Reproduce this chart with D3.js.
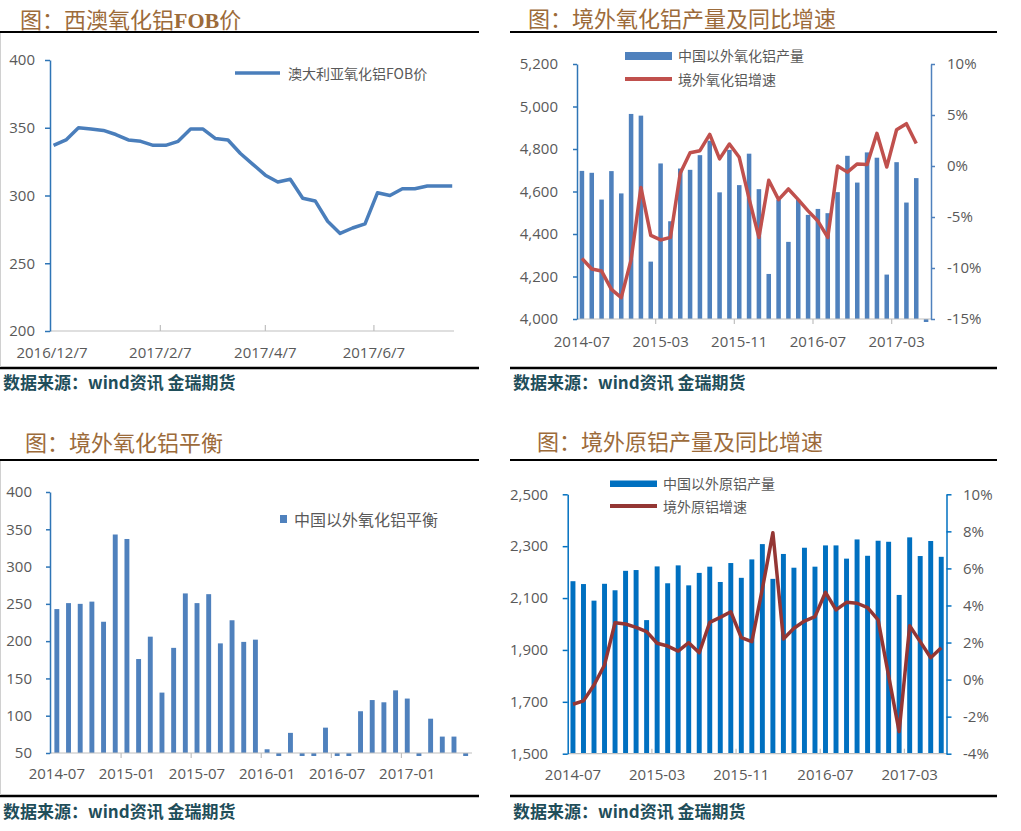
<!DOCTYPE html>
<html><head><meta charset="utf-8">
<script src="https://cdn.jsdelivr.net/npm/d3@7"></script>
<style>body{margin:0;background:#fff}svg{display:block;background:#fff}</style>
</head><body><svg id="c" width="1021" height="831"></svg>
<script>
// ---------- DATA ----------
const months = ["2014-07","2014-08","2014-09","2014-10","2014-11","2014-12",
  "2015-01","2015-02","2015-03","2015-04","2015-05","2015-06","2015-07","2015-08","2015-09","2015-10","2015-11","2015-12",
  "2016-01","2016-02","2016-03","2016-04","2016-05","2016-06","2016-07","2016-08","2016-09","2016-10","2016-11","2016-12",
  "2017-01","2017-02","2017-03","2017-04","2017-05","2017-06"];

const fobDates = ["2016-12-09","2016-12-16","2016-12-23","2016-12-30","2017-01-06","2017-01-13","2017-01-20","2017-01-27",
  "2017-02-03","2017-02-10","2017-02-17","2017-02-24","2017-03-03","2017-03-10","2017-03-17","2017-03-24","2017-03-31",
  "2017-04-07","2017-04-14","2017-04-21","2017-04-28","2017-05-05","2017-05-12","2017-05-19","2017-05-26",
  "2017-06-02","2017-06-09","2017-06-16","2017-06-23","2017-06-30","2017-07-07","2017-07-14","2017-07-21"];
const fobValues = [337,341,350,349,348,345,341,340,337,337,340,349,349,342,341,331,323,315,310,312,298,296,281,272,276,279,302,300,305,305,307,307,307];
const fobTickDates = ["2016-12-07","2017-02-07","2017-04-07","2017-06-07"];
const fobTickLabels = ["2016/12/7","2017/2/7","2017/4/7","2017/6/7"];

const aluminaOutput = [4697,4688,4562,4696,4591,4965,4957,4270,4732,4460,4708,4702,4771,4839,4596,4796,4630,4778,
  4611,4212,4561,4363,4561,4490,4518,4498,4597,4768,4642,4784,4759,4209,4738,4548,4663,0];
const aluminaGrowth = [-9.05,-10.1,-10.3,-12.1,-12.9,-9.2,-2.1,-6.8,-7.25,-7.0,-0.7,1.3,1.5,3.1,0.7,2.15,0.85,-3.2,
  -7.0,-1.4,-3.3,-2.25,-3.3,-4.4,-5.4,-7.0,0.0,-0.6,0.2,0.15,3.2,-0.1,3.55,4.15,2.2,null];

const aluminaBalance = [243,251,250,253,226,343,337,176,206,131,191,264,251,263,197,228,199,202,
  55,30,77,30,30,84,30,30,106,121,118,134,123,30,96,72,72,30];

const aluminumOutput = [2165,2154,2090,2155,2130,2205,2208,2015,2222,2157,2226,2149,2197,2221,2162,2235,2178,2249,
  2308,2174,2270,2217,2294,2221,2303,2303,2252,2326,2263,2321,2317,2112,2334,2262,2320,2259];
const aluminumGrowth = [-1.33,-1.15,-0.29,0.79,3.07,3.0,2.82,2.59,1.96,1.81,1.54,1.99,1.45,3.09,3.36,3.66,2.26,2.05,
  4.9,7.93,2.19,2.77,3.16,3.4,4.71,3.76,4.17,4.12,3.88,3.22,0.2,-2.81,2.91,2.05,1.18,1.72];

const sourceText = "数据来源：wind资讯 金瑞期货";

// ---------- STYLE ----------
const svg = d3.select("#c");
const CJK = "'Noto Sans CJK SC','Noto Sans',sans-serif";
const NUM = "'Open Sans','Noto Sans',sans-serif";
const labelColor = "#595959";
const axisBlue = "#2E75B6";
const gridGrey = "#BFBFBF";
const parse = d3.timeParse("%Y-%m-%d");

function frame(x0, x1, titleX, titleY, titleParts, topLineY, botLineY, srcY, leftBorder) {
  const g = svg.append("g");
  const t = g.append("text").attr("x", titleX).attr("y", titleY)
    .attr("fill", "#9C6B3A").attr("font-size", 22).attr("font-family", CJK);
  titleParts.forEach(p => {
    const s = t.append("tspan").text(p.t);
    if (p.serif) s.attr("font-family", "'Liberation Serif',serif").attr("font-weight", "bold");
  });
  g.append("line").attr("x1", x0).attr("x2", x1).attr("y1", topLineY).attr("y2", topLineY)
    .attr("stroke", "#000").attr("stroke-width", 2);
  g.append("line").attr("x1", x0).attr("x2", x1).attr("y1", botLineY).attr("y2", botLineY)
    .attr("stroke", "#000").attr("stroke-width", 2.5);
  if (leftBorder) {
    g.append("line").attr("x1", 0.5).attr("x2", 0.5).attr("y1", topLineY + 1).attr("y2", botLineY - 1)
      .attr("stroke", "#D0D0D0").attr("stroke-width", 1);
  }
  g.append("text").attr("x", x0 + 3).attr("y", srcY).text(sourceText)
    .attr("fill", "#1F4E5A").attr("font-size", 17).attr("font-weight", "bold").attr("font-family", CJK);
}

function styleAxis(sel, color) {
  sel.selectAll("path.domain").attr("stroke", color).attr("stroke-width", 1.5);
  sel.selectAll(".tick line").attr("stroke", color).attr("stroke-width", 1.5);
  sel.selectAll(".tick text").attr("fill", labelColor).attr("font-size", 15).attr("font-family", NUM);
}

function xCatAxis(g, x, n, every, yAxis, x0, x1, tickDir, labelY) {
  g.append("line").attr("x1", x0).attr("x2", x1).attr("y1", yAxis).attr("y2", yAxis)
    .attr("stroke", gridGrey).attr("stroke-width", 1.2);
  for (let i = every; i < n; i += every) {
    const xx = x(months[i]);
    g.append("line").attr("x1", xx).attr("x2", xx).attr("y1", yAxis).attr("y2", yAxis + tickDir * 5)
      .attr("stroke", gridGrey).attr("stroke-width", 1.2);
  }
  for (let i = 0; i < n; i += every) {
    g.append("text").attr("x", x(months[i]) + x.bandwidth() / 2).attr("y", labelY)
      .attr("text-anchor", "middle").text(months[i])
      .attr("fill", labelColor).attr("font-size", 15).attr("font-family", NUM);
  }
}

// ---------- PANEL 1 ----------
frame(0, 479, 20, 28, [{t:"图：西澳氧化铝"},{t:"FOB", serif:true},{t:"价"}], 32, 368, 389, true);
{
  const g = svg.append("g");
  const x = d3.scaleTime([parse("2016-12-07"), parse("2017-07-22")], [50, 454]);
  const y = d3.scaleLinear([200, 400], [331, 60]);
  g.append("line").attr("x1", 50).attr("x2", 454).attr("y1", 331).attr("y2", 331)
    .attr("stroke", gridGrey).attr("stroke-width", 1.2);
  fobTickDates.forEach((d, i) => {
    const xx = x(parse(d));
    if (i > 0) g.append("line").attr("x1", xx).attr("x2", xx).attr("y1", 331).attr("y2", 325)
      .attr("stroke", gridGrey).attr("stroke-width", 1.2);
    g.append("text").attr("x", i === 0 ? xx + 2 : xx).attr("y", 358).attr("text-anchor", "middle")
      .text(fobTickLabels[i]).attr("fill", labelColor).attr("font-size", 15).attr("font-family", NUM);
  });
  const ax = g.append("g").attr("transform", "translate(50,0)")
    .call(d3.axisLeft(y).tickValues([200,250,300,350,400]).tickSize(5).tickSizeOuter(0).tickPadding(10));
  styleAxis(ax, axisBlue);
  g.append("path").datum(fobValues)
    .attr("d", d3.line().x((d, i) => x(parse(fobDates[i]))).y(d => y(d)))
    .attr("fill", "none").attr("stroke", "#4A7EBB").attr("stroke-width", 3.5)
    .attr("stroke-linejoin", "round");
  g.append("line").attr("x1", 235).attr("x2", 280).attr("y1", 73).attr("y2", 73)
    .attr("stroke", "#4A7EBB").attr("stroke-width", 3.5);
  g.append("text").attr("x", 288).attr("y", 73).attr("dominant-baseline", "central")
    .text("澳大利亚氧化铝FOB价").attr("fill", labelColor).attr("font-size", 14).attr("font-family", CJK);
}

// ---------- PANEL 2 ----------
frame(510, 997, 528, 26.5, [{t:"图：境外氧化铝产量及同比增速"}], 32, 368, 389, false);
{
  const g = svg.append("g");
  const x = d3.scaleBand(months, [577, 931]);
  const yL = d3.scaleLinear([4000, 5200], [319, 64]);
  const yR = d3.scaleLinear([-15, 10], [319, 64]);
  g.append("clipPath").attr("id", "clip2").append("rect").attr("x", 570).attr("y", 60).attr("width", 365).attr("height", 262);
  const bw = x.bandwidth() * 0.46;
  g.append("g").attr("clip-path", "url(#clip2)").selectAll("rect").data(aluminaOutput).join("rect")
    .attr("x", (d, i) => x(months[i]) + (x.bandwidth() - bw) / 2)
    .attr("y", d => Math.min(yL(d), yL(4000)))
    .attr("width", bw)
    .attr("height", d => Math.abs(yL(4000) - yL(d)))
    .attr("fill", "#4F81BD");
  xCatAxis(g, x, 36, 8, 319, 577, 931, 1, 347);
  const axL = g.append("g").attr("transform", "translate(577,0)")
    .call(d3.axisLeft(yL).tickValues(d3.range(4000, 5201, 200)).tickFormat(d3.format(",")).tickSize(4).tickSizeOuter(0).tickPadding(15));
  styleAxis(axL, axisBlue);
  const axR = g.append("g").attr("transform", "translate(931,0)")
    .call(d3.axisRight(yR).tickValues(d3.range(-15, 11, 5)).tickFormat(d => d + "%").tickSize(4).tickSizeOuter(0).tickPadding(12));
  styleAxis(axR, "#4F81BD");
  g.append("path").datum(aluminaGrowth)
    .attr("d", d3.line().defined(d => d !== null).x((d, i) => x(months[i]) + x.bandwidth() / 2).y(d => yR(d)))
    .attr("fill", "none").attr("stroke", "#C0504D").attr("stroke-width", 3.5).attr("stroke-linejoin", "round");
  g.append("rect").attr("x", 625).attr("y", 52).attr("width", 47).attr("height", 8).attr("fill", "#4F81BD");
  g.append("text").attr("x", 678).attr("y", 55).attr("dominant-baseline", "central")
    .text("中国以外氧化铝产量").attr("fill", labelColor).attr("font-size", 14).attr("font-family", CJK);
  g.append("line").attr("x1", 625).attr("x2", 672).attr("y1", 79).attr("y2", 79)
    .attr("stroke", "#C0504D").attr("stroke-width", 4);
  g.append("text").attr("x", 678).attr("y", 79).attr("dominant-baseline", "central")
    .text("境外氧化铝增速").attr("fill", labelColor).attr("font-size", 14).attr("font-family", CJK);
}

// ---------- PANEL 3 ----------
frame(0, 479, 25, 451, [{t:"图：境外氧化铝平衡"}], 460, 796, 818, true);
{
  const g = svg.append("g");
  const x = d3.scaleBand(months, [51, 471.5]);
  const y = d3.scaleLinear([50, 400], [753, 492]);
  g.append("clipPath").attr("id", "clip3").append("rect").attr("x", 45).attr("y", 488).attr("width", 435).attr("height", 268);
  const bw = x.bandwidth() * 0.42;
  g.append("g").attr("clip-path", "url(#clip3)").selectAll("rect").data(aluminaBalance).join("rect")
    .attr("x", (d, i) => x(months[i]) + (x.bandwidth() - bw) / 2)
    .attr("y", d => Math.min(y(d), y(50)))
    .attr("width", bw)
    .attr("height", d => Math.abs(y(50) - y(d)))
    .attr("fill", "#4F81BD");
  xCatAxis(g, x, 36, 6, 753, 50, 472, 1, 779);
  const ax = g.append("g").attr("transform", "translate(50,0)")
    .call(d3.axisLeft(y).tickValues(d3.range(50, 401, 50)).tickSize(4).tickSizeOuter(0).tickPadding(14));
  styleAxis(ax, axisBlue);
  g.append("rect").attr("x", 280).attr("y", 515).attr("width", 7).attr("height", 8).attr("fill", "#4F81BD");
  g.append("text").attr("x", 294).attr("y", 519).attr("dominant-baseline", "central")
    .text("中国以外氧化铝平衡").attr("fill", labelColor).attr("font-size", 16).attr("font-family", CJK);
}

// ---------- PANEL 4 ----------
frame(510, 997, 537, 450, [{t:"图：境外原铝产量及同比增速"}], 460, 796, 818, false);
{
  const g = svg.append("g");
  const x = d3.scaleBand(months, [567.7, 946.5]);
  const yL = d3.scaleLinear([1500, 2500], [753.7, 494.3]);
  const yR = d3.scaleLinear([-4, 10], [753.7, 494.3]);
  const bw = x.bandwidth() * 0.47;
  g.append("g").selectAll("rect").data(aluminumOutput).join("rect")
    .attr("x", (d, i) => x(months[i]) + (x.bandwidth() - bw) / 2)
    .attr("y", d => yL(d))
    .attr("width", bw)
    .attr("height", d => yL(1500) - yL(d))
    .attr("fill", "#0070C0");
  xCatAxis(g, x, 36, 8, 753.7, 567.7, 946.5, -1, 780);
  const axL = g.append("g").attr("transform", "translate(567.7,0)")
    .call(d3.axisLeft(yL).tickValues(d3.range(1500, 2501, 200)).tickFormat(d3.format(",")).tickSize(5).tickSizeOuter(0).tickPadding(14.5));
  styleAxis(axL, "#0070C0");
  const axR = g.append("g").attr("transform", "translate(946.5,0)")
    .call(d3.axisRight(yR).tickValues(d3.range(-4, 11, 2)).tickFormat(d => d + "%").tickSize(5).tickSizeOuter(0).tickPadding(11.5));
  styleAxis(axR, "#0070C0");
  g.append("path").datum(aluminumGrowth)
    .attr("d", d3.line().x((d, i) => x(months[i]) + x.bandwidth() / 2).y(d => yR(d)))
    .attr("fill", "none").attr("stroke", "#943634").attr("stroke-width", 3.5).attr("stroke-linejoin", "round");
  g.append("rect").attr("x", 610).attr("y", 480.5).attr("width", 47).attr("height", 6.5).attr("fill", "#0070C0");
  g.append("text").attr("x", 663).attr("y", 483).attr("dominant-baseline", "central")
    .text("中国以外原铝产量").attr("fill", labelColor).attr("font-size", 14).attr("font-family", CJK);
  g.append("line").attr("x1", 610).attr("x2", 657).attr("y1", 506).attr("y2", 506)
    .attr("stroke", "#943634").attr("stroke-width", 4);
  g.append("text").attr("x", 663).attr("y", 506).attr("dominant-baseline", "central")
    .text("境外原铝增速").attr("fill", labelColor).attr("font-size", 14).attr("font-family", CJK);
}
</script></body></html>
